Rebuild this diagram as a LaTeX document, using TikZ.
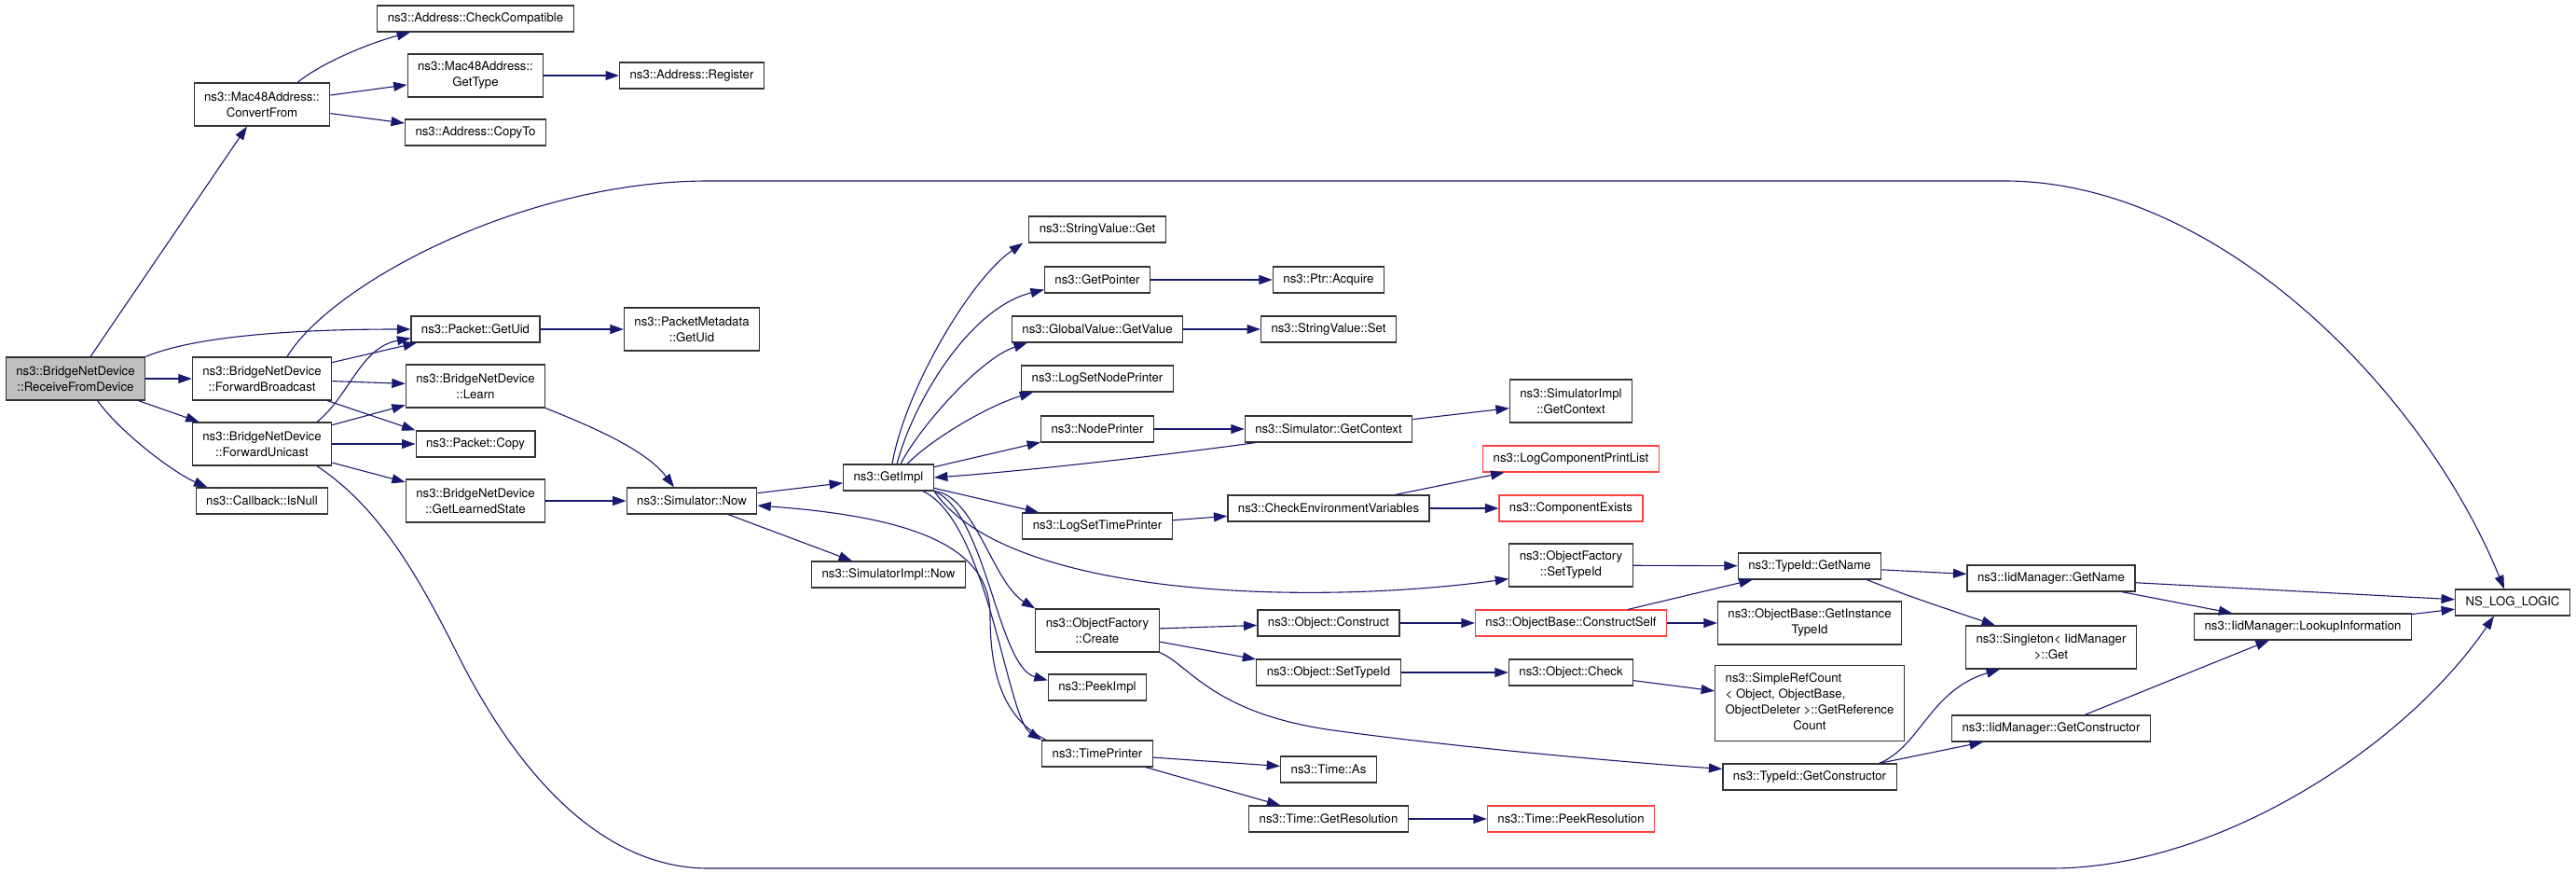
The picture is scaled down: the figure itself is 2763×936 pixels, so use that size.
\documentclass[tikz,border=0pt]{standalone}
\usepackage{fontspec}
\setmainfont{TeX Gyre Heros}
\usetikzlibrary{arrows.meta}
\definecolor{edgeblue}{HTML}{191970}
\definecolor{boxline}{HTML}{333333}
\definecolor{cutred}{HTML}{FF4040}
\definecolor{rootfill}{HTML}{BFBFBF}

\begin{document}
\begin{tikzpicture}[x=0.5pt,y=-0.5pt,
  font=\fontsize{6.6}{8.5}\selectfont,
  fn/.style={draw=boxline, line width=0.6pt, fill=white, inner xsep=5.5pt, inner ysep=1pt, minimum height=14pt, align=center},
  twoline/.style={minimum height=23pt},
  redbox/.style={draw=cutred},
  callarrow/.style={draw=edgeblue, line width=0.55pt, -{Triangle[length=7.2pt,width=5pt]}}]
\useasboundingbox (0,0) rectangle (2763,936);

% caller and first calls
\node[fn,twoline,fill=rootfill] (rfd) at (81,406) {ns3::BridgeNetDevice\\::ReceiveFromDevice};
\node[fn,twoline] (cf) at (281,112) {ns3::Mac48Address::\\ConvertFrom};
\node[fn,twoline] (fb) at (281,406) {ns3::BridgeNetDevice\\::ForwardBroadcast};
\node[fn,twoline] (fu) at (281,476) {ns3::BridgeNetDevice\\::ForwardUnicast};
\node[fn] (isnull) at (281,537) {ns3::Callback::IsNull};

\node[fn] (cc) at (510,20) {ns3::Address::CheckCompatible};
\node[fn,twoline] (mgt) at (510,81) {ns3::Mac48Address::\\GetType};
\node[fn] (copyto) at (510,142) {ns3::Address::CopyTo};
\node[fn] (reg) at (742,81) {ns3::Address::Register};
\node[fn] (puid) at (510,353) {ns3::Packet::GetUid};
\node[fn,twoline] (learn) at (510,414) {ns3::BridgeNetDevice\\::Learn};
\node[fn] (pcopy) at (510,476) {ns3::Packet::Copy};
\node[fn,twoline] (gls) at (510,537) {ns3::BridgeNetDevice\\::GetLearnedState};
\node[fn,twoline] (pmuid) at (742,353) {ns3::PacketMetadata\\::GetUid};
\node[fn] (snow) at (742,537) {ns3::Simulator::Now};

% simulator implementation
\node[fn] (getimpl) at (953,512) {ns3::GetImpl};
\node[fn] (sinow) at (953,616) {ns3::SimulatorImpl::Now};
\node[fn] (svget) at (1177,246) {ns3::StringValue::Get};
\node[fn] (getptr) at (1177,300) {ns3::GetPointer};
\node[fn] (gvget) at (1177,353) {ns3::GlobalValue::GetValue};
\node[fn] (lsnp) at (1177,406) {ns3::LogSetNodePrinter};
\node[fn] (np) at (1177,460) {ns3::NodePrinter};
\node[fn] (lstp) at (1177,564) {ns3::LogSetTimePrinter};
\node[fn,twoline] (ofc) at (1177,676) {ns3::ObjectFactory\\::Create};
\node[fn] (peek) at (1177,737) {ns3::PeekImpl};
\node[fn] (tp) at (1177,808) {ns3::TimePrinter};

\node[fn] (acq) at (1425,300) {ns3::Ptr::Acquire};
\node[fn] (svset) at (1425,353) {ns3::StringValue::Set};
\node[fn] (sgc) at (1425,460) {ns3::Simulator::GetContext};
\node[fn] (cev) at (1425,545) {ns3::CheckEnvironmentVariables};
\node[fn] (oconst) at (1425,668) {ns3::Object::Construct};
\node[fn] (osti) at (1425,721) {ns3::Object::SetTypeId};
\node[fn] (tas) at (1425,825) {ns3::Time::As};
\node[fn] (tgr) at (1425,878) {ns3::Time::GetResolution};

\node[fn,twoline] (sigc) at (1685,430) {ns3::SimulatorImpl\\::GetContext};
\node[fn,redbox] (lcpl) at (1685,492) {ns3::LogComponentPrintList};
\node[fn,redbox] (cex) at (1685,545) {ns3::ComponentExists};
\node[fn,twoline] (ofst) at (1685,606) {ns3::ObjectFactory\\::SetTypeId};
\node[fn,redbox] (ocs) at (1685,668) {ns3::ObjectBase::ConstructSelf};
\node[fn] (ocheck) at (1685,721) {ns3::Object::Check};
\node[fn,redbox] (tpr) at (1685,878) {ns3::Time::PeekResolution};

% type ids
\node[fn] (tgn) at (1941,607) {ns3::TypeId::GetName};
\node[fn,twoline] (ogit) at (1941,668) {ns3::ObjectBase::GetInstance\\TypeId};
\node[fn,minimum height=40.5pt] (src) at (1941,754) {\begin{tabular}{@{}c@{}}\multicolumn{1}{@{}l@{}}{ns3::SimpleRefCount}\\\multicolumn{1}{@{}l@{}}{< Object, ObjectBase,}\\ObjectDeleter >::GetReference\\Count\end{tabular}};
\node[fn] (tgc) at (1941,833) {ns3::TypeId::GetConstructor};
\node[fn] (igname) at (2200,620) {ns3::IidManager::GetName};
\node[fn,twoline] (sget) at (2200,694) {ns3::Singleton< IidManager\\ >::Get};
\node[fn] (igc) at (2200,781) {ns3::IidManager::GetConstructor};
\node[fn] (ilookup) at (2470,672) {ns3::IidManager::LookupInformation};
\node[fn] (nslog) at (2695,646) {NS\_LOG\_LOGIC};

% straight calls
\foreach \a/\b in {rfd/cf, rfd/fb, rfd/fu, cf/mgt, cf/copyto, mgt/reg, fb/puid, fb/learn,
  fb/pcopy.north west, fu/learn, fu/pcopy, fu/gls, puid/pmuid, gls/snow, snow/getimpl,
  snow/sinow, getimpl/lstp, getimpl/np, np/sgc, sgc/sigc, getptr/acq, gvget/svset,
  lstp/cev, cev/lcpl, cev/cex, ofc/oconst, ofc/osti, oconst/ocs, osti/ocheck, ocs/ogit,
  ocs/tgn, ofst/tgn, ocheck/src, tp/tas, tp/tgr, tgr/tpr, tgn/igname, igname/nslog,
  igname/ilookup, ilookup/nslog, igc/ilookup}
  \draw[callarrow] (\a) -- (\b);

% curved calls
\draw[callarrow] (rfd.north east) .. controls +(60,-25) and +(-100,0) .. (puid.west);
\draw[callarrow] (rfd.-45) .. controls +(25,35) and +(-35,-15) .. (isnull.166);
\draw[callarrow] ([shift={(38,0)}]cf.north) .. controls +(26,-21) and +(-45,12) .. ([shift={(-70,0)}]cc.south);
\draw[callarrow] ([shift={(27,0)}]fb.north) .. controls (355,305) and (560,194) .. (760,194)
  -- (2150,194) .. controls (2380,194) and (2600,420) .. ([shift={(-9,0)}]nslog.north);
\draw[callarrow] ([shift={(59,0)}]fu.north) .. controls +(35,-28) and +(-54,10) .. ([shift={(0,-5)}]puid.south west);
\draw[callarrow] ([shift={(59,0)}]fu.south) .. controls (400,540) and (440,600) .. (490,700)
  .. controls (530,780) and (620,931) .. (760,931) -- (2200,931)
  .. controls (2380,931) and (2580,800) .. ([shift={(-20,0)}]nslog.south);
\draw[callarrow] (learn.south east) .. controls +(50,20) and +(-30,-40) .. ([shift={(-19,0)}]snow.north);
\draw[callarrow] ([shift={(5,0)}]tp.north west) .. controls (1075,770) and (1062,720) .. (1062,660)
  .. controls (1062,590) and (990,555) .. ([shift={(0,5)}]snow.east);

\draw[callarrow] ([shift={(4,0)}]getimpl.north) .. controls (970,420) and (1040,300) .. ([shift={(-6,0)}]svget.south west);
\draw[callarrow] ([shift={(9,0)}]getimpl.north) .. controls (980,430) and (1040,330) .. ([shift={(0,-4)}]getptr.south west);
\draw[callarrow] ([shift={(13,0)}]getimpl.north) .. controls (985,460) and (1050,385) .. ([shift={(17,0)}]gvget.south west);
\draw[callarrow] ([shift={(20,0)}]getimpl.north) .. controls (1000,470) and (1060,435) .. ([shift={(13,0)}]lsnp.south west);
\draw[callarrow] (getimpl.south east) .. controls (1045,530) and (1065,625) .. (ofc.north west);
\draw[callarrow] (getimpl.south east) .. controls (1058,550) and (1070,715) .. ([shift={(0,7)}]peek.north west);
\draw[callarrow] ([shift={(-12,0)}]getimpl.south east) .. controls (1060,560) and (1080,770) .. (tp.north west);
\draw[callarrow] (getimpl.south east) .. controls (1080,640) and (1400,650) .. ([shift={(0,-9)}]ofst.south west);
\draw[callarrow] ([shift={(12,0)}]sgc.south west) .. controls (1250,488) and (1100,505) .. (getimpl.east);

\draw[callarrow] (ofc.south east) .. controls (1275,712) and (1300,765) .. (1430,783)
  .. controls (1560,801) and (1750,818) .. ([shift={(0,6)}]tgc.north west);
\draw[callarrow] ([shift={(-16,0)}]tgn.south east) .. controls (2050,640) .. ([shift={(-60,0)}]sget.north);
\draw[callarrow] ([shift={(-19,0)}]tgc.north east) .. controls (2060,800) and (2070,740) .. ([shift={(-55,0)}]sget.south);
\draw[callarrow] ([shift={(-19,0)}]tgc.north east) -- ([shift={(34,0)}]igc.south west);
\end{tikzpicture}
\end{document}
